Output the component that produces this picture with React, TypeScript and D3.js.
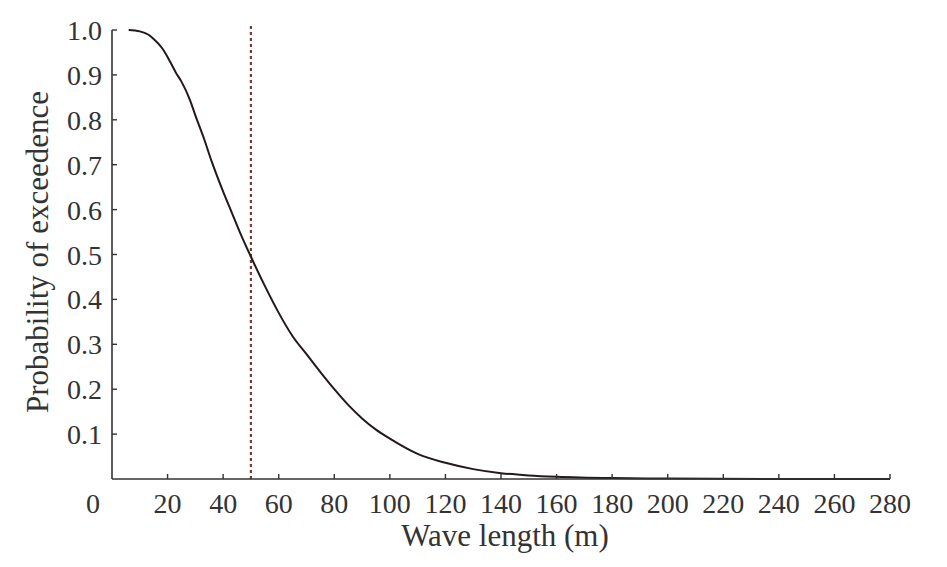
import React from "react";
import * as d3 from "d3";

const waveLength = [6, 10, 13, 15, 18, 20, 23, 25, 28, 30, 33, 36, 40, 43, 46, 50, 55, 60, 65, 70, 75, 80, 85, 90, 95, 100, 110, 120, 130, 140, 150, 160, 180, 200, 240, 280];
const probability = [1.0, 0.997, 0.99, 0.98, 0.96, 0.94, 0.905, 0.885, 0.845, 0.81, 0.76, 0.705, 0.64, 0.595, 0.55, 0.495, 0.43, 0.37, 0.318, 0.278, 0.238, 0.2, 0.165, 0.135, 0.11, 0.09, 0.056, 0.036, 0.022, 0.013, 0.008, 0.005, 0.002, 0.001, 0.0, 0.0];
const xTicks = [0, 20, 40, 60, 80, 100, 120, 140, 160, 180, 200, 220, 240, 260, 280];
const yTicks = [0.1, 0.2, 0.3, 0.4, 0.5, 0.6, 0.7, 0.8, 0.9, 1.0];
const markerX = [50];

const W = 947, H = 567;
const left = 112, right = 890, top = 30, bottom = 479;

export default function App() {
  const x = d3.scaleLinear().domain([0, 280]).range([left, right]);
  const y = d3.scaleLinear().domain([0, 1]).range([bottom, top]);
  const line = d3.line<number>().x((_, i) => x(waveLength[i])).y((d) => y(d)).curve(d3.curveMonotoneX);
  const font = "'Liberation Serif', 'DejaVu Serif', serif";
  const textColor = "#333";
  return (
    <svg width={W} height={H} style={{ position: "absolute", left: 0, top: 0, background: "#fff" }}>
      <rect width={W} height={H} fill="#fff" />
      {markerX.map((m) => (
        <line key={m} x1={x(m)} x2={x(m)} y1={26} y2={bottom} stroke="#7a3a32" strokeWidth={2.2} strokeDasharray="3,3" />
      ))}
      <path d={line(probability) || ""} fill="none" stroke="#241818" strokeWidth={2} />
      <line x1={left} x2={left} y1={top} y2={bottom} stroke="#333" strokeWidth={1.6} />
      <line x1={left} x2={right} y1={bottom} y2={bottom} stroke="#333" strokeWidth={1.6} />
      {yTicks.map((t) => (
        <g key={t}>
          <line x1={left} x2={left + 5} y1={y(t)} y2={y(t)} stroke="#333" strokeWidth={1.4} />
          <text x={left - 10} y={y(t)} dy="0.36em" textAnchor="end" fontFamily={font} fontSize={28} fill={textColor}>
            {t.toFixed(1)}
          </text>
        </g>
      ))}
      {xTicks.map((t) => (
        <g key={t}>
          {t > 0 && <line x1={x(t)} x2={x(t)} y1={bottom} y2={bottom - 5} stroke="#333" strokeWidth={1.4} />}
          <text x={t === 0 ? x(t) - 19 : x(t)} y={513} textAnchor="middle" fontFamily={font} fontSize={28} fill={textColor}>
            {t}
          </text>
        </g>
      ))}
      <text x={505} y={546} textAnchor="middle" fontFamily={font} fontSize={31} fill={textColor}>
        Wave length (m)
      </text>
      <text transform={`translate(48, 252) rotate(-90)`} textAnchor="middle" fontFamily={font} fontSize={31} fill={textColor}>
        Probability of exceedence
      </text>
    </svg>
  );
}
